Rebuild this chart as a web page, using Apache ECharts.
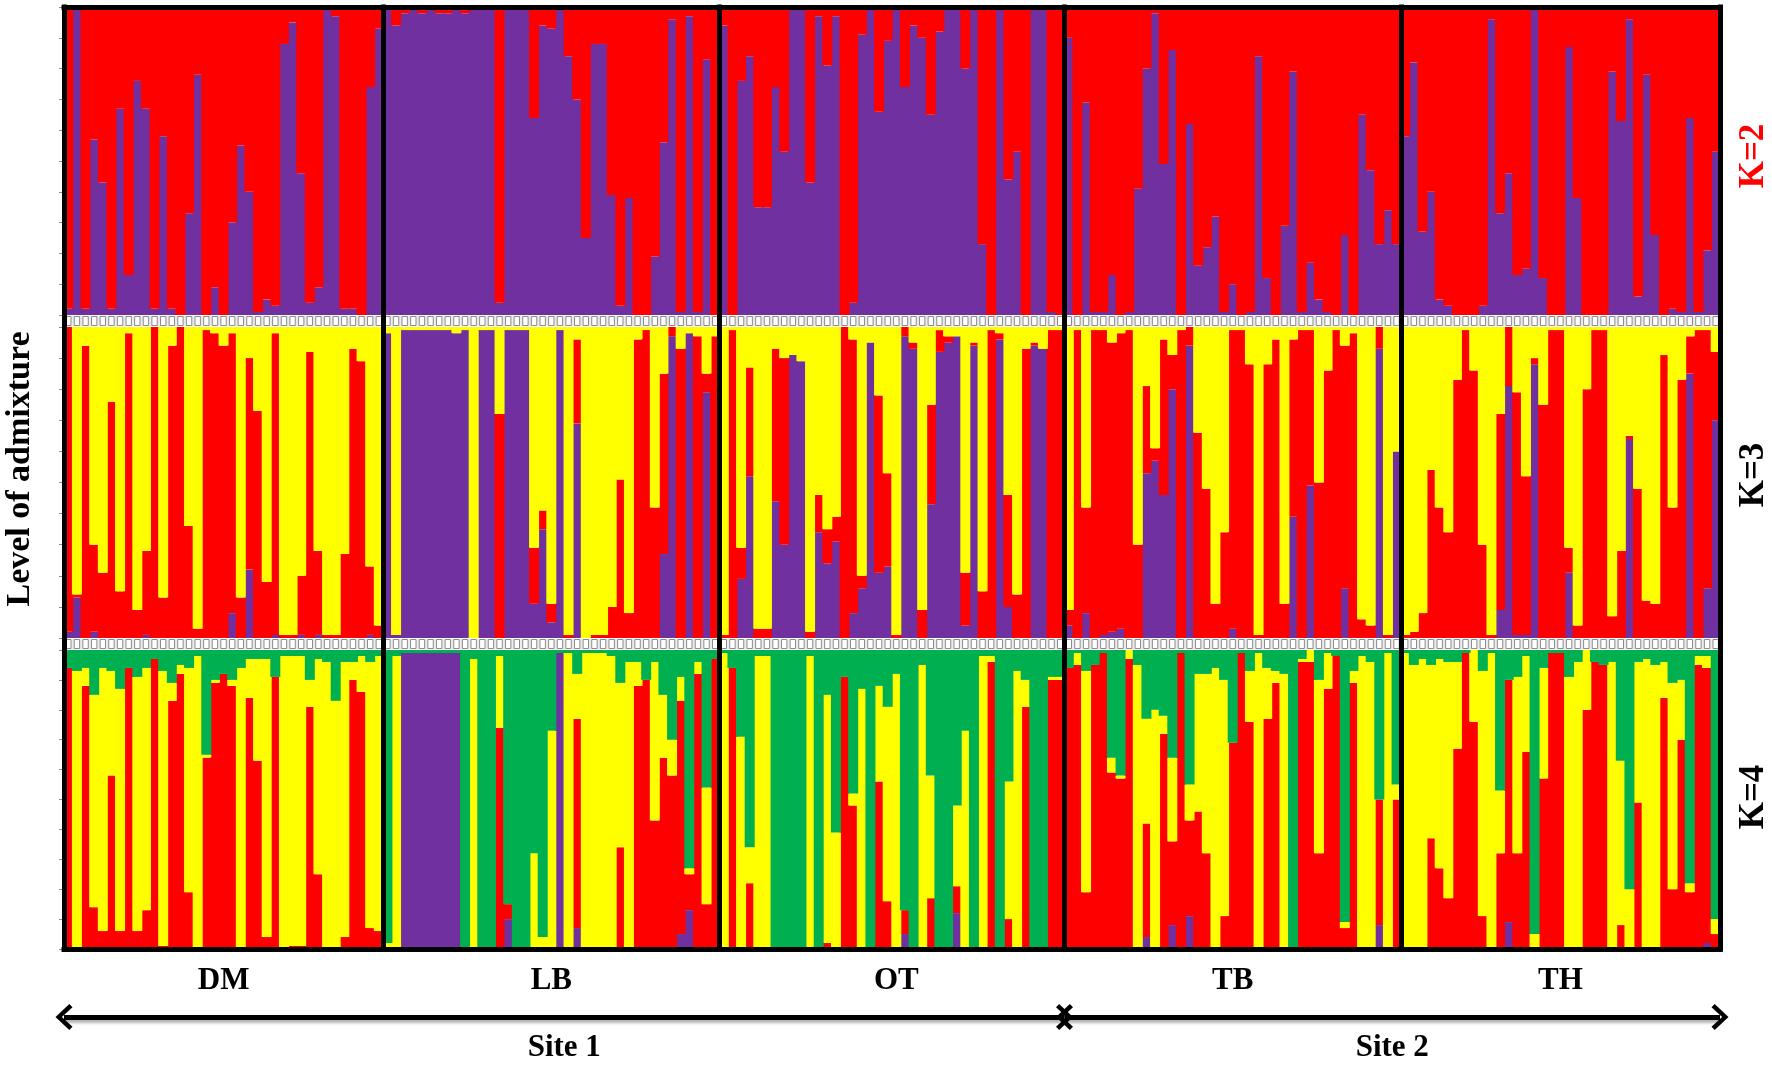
<!DOCTYPE html>
<html>
<head>
<meta charset="utf-8">
<title>Level of admixture</title>
<script src="https://cdn.jsdelivr.net/npm/echarts@6/dist/echarts.min.js"></script>
<style>
	html, body { margin: 0; padding: 0; background: #fff; }
	#report_1 { width: 1772px; height: 1065px; }
</style>
</head>
<body>
<div id="report_1"></div>
<script>
var popNames = ['DM', 'LB', 'OT', 'TB', 'TH'];
var popCounts = [37, 39, 40, 39, 37];
var siteNames = ['Site 1', 'Site 2'];
var sitePopCounts = [3, 2];
var kLabels = ['K=2', 'K=3', 'K=4'];

// K=2 (one line per population: DM, LB, OT, TB, TH)
var k2Purple = [
	0.02,0.99,0.02,0.57,0.43,0.02,0.67,0.13,0.76,0.67,0.02,0.58,0.02,0.00,0.33,0.78,0.00,0.09,0.00,0.30,0.55,0.40,0.01,0.05,0.03,0.88,0.95,0.46,0.04,0.09,0.99,0.97,0.02,0.02,0.00,0.74,0.93,
	0.99,0.94,0.98,0.99,0.98,0.99,0.98,0.98,0.99,0.98,0.99,0.99,0.99,0.04,0.99,0.99,0.99,0.64,0.94,0.93,0.99,0.84,0.70,0.25,0.88,0.88,0.39,0.03,0.38,0.00,0.00,0.19,0.56,0.96,0.01,0.97,0.01,0.83,0.00,
	0.94,0.00,0.76,0.84,0.35,0.35,0.74,0.53,0.99,0.99,0.43,0.97,0.81,0.97,0.00,0.04,0.91,0.99,0.66,0.89,0.99,0.74,0.94,0.90,0.65,0.92,0.99,0.99,0.80,0.99,0.23,0.00,0.99,0.44,0.53,0.00,0.99,0.99,0.01,0.00,
	0.90,0.00,0.69,0.01,0.01,0.13,0.00,0.01,0.41,0.80,0.98,0.49,0.86,0.00,0.62,0.16,0.22,0.32,0.01,0.10,0.00,0.01,0.84,0.12,0.00,0.29,0.79,0.01,0.17,0.05,0.01,0.00,0.26,0.00,0.65,0.47,0.23,0.34,0.23,
	0.58,0.82,0.27,0.40,0.05,0.03,0.00,0.00,0.00,0.03,0.96,0.33,0.46,0.13,0.15,0.99,0.12,0.00,0.00,0.87,0.38,0.00,0.00,0.00,0.79,0.63,0.96,0.06,0.78,0.26,0.00,0.02,0.01,0.64,0.01,0.21,0.53
];
var k2Red = [
	0.98,0.01,0.98,0.43,0.57,0.98,0.33,0.87,0.24,0.33,0.98,0.42,0.98,1.00,0.67,0.22,1.00,0.91,1.00,0.70,0.45,0.60,0.99,0.95,0.97,0.12,0.05,0.54,0.96,0.91,0.01,0.03,0.98,0.98,1.00,0.26,0.07,
	0.01,0.06,0.02,0.01,0.02,0.01,0.02,0.02,0.01,0.02,0.01,0.01,0.01,0.96,0.01,0.01,0.01,0.36,0.06,0.07,0.01,0.16,0.30,0.75,0.12,0.12,0.61,0.97,0.62,1.00,1.00,0.81,0.44,0.04,0.99,0.03,0.99,0.17,1.00,
	0.06,1.00,0.24,0.16,0.65,0.65,0.26,0.47,0.01,0.01,0.57,0.03,0.19,0.03,1.00,0.96,0.09,0.01,0.34,0.11,0.01,0.26,0.06,0.10,0.35,0.08,0.01,0.01,0.20,0.01,0.77,1.00,0.01,0.56,0.47,1.00,0.01,0.01,0.99,1.00,
	0.10,1.00,0.31,0.99,0.99,0.87,1.00,0.99,0.59,0.20,0.02,0.51,0.14,1.00,0.38,0.84,0.78,0.68,0.99,0.90,1.00,0.99,0.16,0.88,1.00,0.71,0.21,0.99,0.83,0.95,0.99,1.00,0.74,1.00,0.35,0.53,0.77,0.66,0.77,
	0.42,0.18,0.73,0.60,0.95,0.97,1.00,1.00,1.00,0.97,0.04,0.67,0.54,0.87,0.85,0.01,0.88,1.00,1.00,0.13,0.62,1.00,1.00,1.00,0.21,0.37,0.04,0.94,0.22,0.74,1.00,0.98,0.99,0.36,0.99,0.79,0.47
];

// K=3
var k3Purple = [
	0.02,0.13,0,0.02,0,0,0,0,0,0.01,0,0,0,0,0,0,0,0,0,0.08,0,0.22,0,0,0.01,0,0,0.01,0,0.01,0,0,0,0,0,0.01,0,
	0.98,0.01,0.99,0.99,0.99,0.99,0.99,0.99,0.98,0.99,0,0.99,0.99,0,0.99,0.99,0.99,0.11,0.35,0.05,0.99,0,0.69,0,0,0,0,0,0,0,0,0,0.27,0.97,0,0.98,0,0.79,0,
	0,0,0.19,0.52,0,0,0.44,0.30,0.91,0.89,0,0.34,0.24,0.31,0,0.08,0.16,0.95,0.21,0.23,0,0.97,0.93,0,0.43,0.92,0.95,0.97,0.04,0.94,0,0,0.96,0.10,0,0,0.94,0.93,0,0,
	0.04,0,0.08,0,0.01,0.02,0.03,0,0,0.53,0.57,0.46,0.80,0,0.94,0,0,0,0,0.03,0,0,0,0,0,0,0.39,0,0.49,0,0,0,0.16,0,0,0,0.93,0,0.60,
	0,0,0,0,0,0,0,0,0,0,0,0.09,0.81,0.01,0.01,0.88,0,0,0,0.21,0,0,0,0,0,0,0.64,0,0,0,0,0,0,0.85,0,0.16,0.70
];
var k3Red = [
	0.98,0.01,0.94,0.28,0.21,0.76,0.15,0.98,0.09,0.27,1.00,0.13,0.94,1.00,0.36,0.03,0.99,0.98,0.94,0.90,0.13,0.68,0.73,0.18,0.97,0.01,0.01,0.19,0.92,0.27,0.01,0.01,0.27,0.93,0.89,0.22,0.04,
	0,0,0,0,0,0,0,0,0,0,0,0,0,0.72,0,0,0,0.18,0.06,0.06,0,0.01,0.27,0,0.01,0.01,0.10,0.51,0.08,0.96,0.99,0.42,0.58,0.03,0.93,0,0.97,0.06,0.97,
	0.01,0.99,0.10,0.35,0.03,0.03,0.49,0.60,0,0,0.02,0.12,0.11,0.08,1.00,0.88,0.04,0,0.57,0.30,0.01,0.03,0.02,0.09,0.32,0.07,0.02,0,0.17,0.01,0.15,0.99,0.02,0.36,0.14,0.93,0.01,0,0.99,0.99,
	0.05,0.99,0.34,0.99,0.98,0.93,0.95,0.99,0.30,0.28,0.04,0.50,0.11,0.99,0.06,0.66,0.48,0.11,0.34,0.96,0.99,0.88,0.01,0.88,0.96,0.11,0.57,0.99,0.50,0.50,0.86,0.99,0.78,0.98,0.06,0.04,0.07,0.01,0,
	0.01,0.02,0.08,0.54,0.42,0.34,0.83,0.99,0.86,0.30,0.01,0.63,0.19,0.78,0.51,0.02,0.75,0.99,0.99,0.08,0.04,0.80,0.99,0.99,0.07,0.28,0.01,0.48,0.12,0.11,0.91,0.42,0.83,0.12,0.99,0.83,0.22
];
var k3Yellow = [
	0,0.86,0.06,0.70,0.79,0.24,0.85,0.02,0.91,0.72,0,0.87,0.06,0,0.64,0.97,0.01,0.02,0.06,0.02,0.87,0.10,0.27,0.82,0.02,0.99,0.99,0.80,0.08,0.72,0.99,0.99,0.73,0.07,0.11,0.77,0.96,
	0.02,0.99,0.01,0.01,0.01,0.01,0.01,0.01,0.02,0.01,1.00,0.01,0.01,0.28,0.01,0.01,0.01,0.71,0.59,0.89,0.01,0.99,0.04,1.00,0.99,0.99,0.90,0.49,0.92,0.04,0.01,0.58,0.15,0,0.07,0.02,0.03,0.15,0.03,
	0.99,0.01,0.71,0.13,0.97,0.97,0.07,0.10,0.09,0.11,0.98,0.54,0.65,0.61,0,0.04,0.80,0.05,0.22,0.47,0.99,0,0.05,0.91,0.25,0.01,0.03,0.03,0.79,0.05,0.85,0.01,0.02,0.54,0.86,0.07,0.05,0.07,0.01,0.01,
	0.91,0.01,0.58,0.01,0.01,0.05,0.02,0.01,0.70,0.19,0.39,0.04,0.09,0.01,0,0.34,0.52,0.89,0.66,0.01,0.01,0.12,0.99,0.12,0.04,0.89,0.04,0.01,0.01,0.50,0.14,0.01,0.06,0.02,0.94,0.96,0,0.99,0.40,
	0.99,0.98,0.92,0.46,0.58,0.66,0.17,0.01,0.14,0.70,0.99,0.28,0,0.21,0.48,0.10,0.25,0.01,0.01,0.71,0.96,0.20,0.01,0.01,0.93,0.72,0.35,0.52,0.88,0.89,0.09,0.58,0.17,0.03,0.01,0.01,0.08
];

// K=4
var k4Purple = [
	0,0,0,0,0,0,0,0,0,0,0,0,0,0,0,0,0,0,0,0,0,0,0,0,0,0,0,0,0,0,0,0,0,0,0,0,0,
	0,0,0.99,0.99,0.99,0.99,0.99,0.99,0.99,0,0,0,0,0,0.10,0,0,0,0,0,0.99,0,0.07,0,0,0,0,0,0,0,0,0,0,0,0.05,0.13,0,0,0,
	0,0,0,0,0,0,0,0,0,0,0,0,0,0,0,0,0,0,0,0,0,0.05,0,0,0,0,0,0.12,0,0,0,0,0,0,0,0,0,0,0,0,
	0,0,0,0,0,0,0,0,0,0.04,0,0,0.08,0,0.11,0,0,0,0,0,0,0,0,0,0,0,0,0,0,0,0,0,0,0,0,0,0.08,0,0,
	0,0,0,0,0,0,0,0,0,0,0,0,0.09,0,0,0,0,0,0,0,0,0,0,0,0,0,0,0,0,0,0,0,0,0,0,0.02,0
];
var k4Red = [
	0.94,0,0.88,0.14,0.06,0.58,0.06,0.94,0.06,0.13,0.97,0.01,0.83,0.92,0.19,0,0.64,0.89,0.92,0.88,0,0.84,0.63,0.04,0.91,0,0.01,0.01,0.81,0.25,0,0,0.04,0.90,0.86,0.07,0.06,
	0,0,0,0,0,0,0,0,0,0,0,0,0,0.74,0.05,0,0,0,0,0,0,0,0.70,0,0,0,0,0.34,0,0.88,0.90,0.43,0.64,0.58,0.78,0.12,0.92,0.15,0.97,
	0,0.94,0,0.22,0,0,0,0,0,0,0,0,0.02,0,0.91,0.48,0,0,0.56,0.16,0,0.08,0,0,0.17,0,0,0.09,0,0,0,0.96,0,0.10,0,0.81,0,0,0.90,0.90,
	0.94,0.95,0.19,0.95,0.99,0.59,0.57,0.97,0,0.38,0,0.72,0.28,0.99,0.32,0.46,0.32,0,0.11,0.69,0.99,0.76,0,0.77,0.89,0,0,0.96,0.96,0.32,0.87,0.98,0.07,0.89,0,0,0.42,0,0.50,
	0,0,0,0.37,0.27,0.17,0.67,0.99,0.76,0.11,0,0.32,0.81,0.32,0.66,0,0.57,0.99,0.99,0,0,0.80,0.96,0.95,0,0.08,0,0.49,0,0,0.84,0.20,0.70,0.19,0.95,0.92,0.05
];
var k4Yellow = [
	0,0.93,0.06,0.71,0.88,0.35,0.81,0,0.85,0.81,0,0.92,0.06,0.03,0.75,0.98,0.01,0.01,0,0.02,0.94,0.13,0.34,0.93,0,0.98,0.97,0.97,0.09,0.72,0.96,0.83,0.92,0.06,0.12,0.89,0.92,
	0.02,0.98,0,0,0,0,0,0,0,0,0.97,0,0,0.24,0,0,0,0.32,0.04,0.73,0,0.99,0.15,0.99,0.99,0.99,0.98,0.55,0.96,0.08,0,0.53,0.21,0.12,0.08,0.02,0.04,0.39,0,
	0.99,0,0.71,0.12,0.98,0.98,0,0,0,0,0.98,0,0.83,0.39,0,0.04,0.87,0,0.32,0.65,0.92,0,0,0.95,0.41,0,0,0.27,0.73,0,0.98,0.02,0,0.46,0.93,0.09,0,0,0.01,0.01,
	0,0.04,0.74,0,0,0.05,0.01,0.03,0.95,0.35,0.80,0.06,0.28,0,0.12,0.46,0.60,0.94,0.79,0,0,0.17,0.99,0.17,0.04,0.92,0,0.01,0.04,0.58,0.12,0,0.02,0.04,0.98,0.96,0,0.99,0.05,
	0.99,0.95,0.97,0.58,0.70,0.79,0.29,0,0.24,0.82,0.99,0.21,0,0.59,0.32,0.05,0.37,0,0,0.91,0.96,0.20,0,0,0.96,0.55,0.20,0.47,0.97,0.95,0.12,0.69,0.20,0.03,0.03,0.04,0.05
];
var k4Green = [
	0.06,0.07,0.06,0.15,0.06,0.07,0.13,0.06,0.09,0.06,0.03,0.07,0.11,0.05,0.06,0.02,0.35,0.10,0.08,0.10,0.06,0.03,0.03,0.03,0.09,0.02,0.02,0.02,0.10,0.03,0.04,0.17,0.04,0.04,0.02,0.04,0.02,
	0.98,0.02,0.01,0.01,0.01,0.01,0.01,0.01,0.01,1.00,0.03,1.00,1.00,0.02,0.85,1.00,1.00,0.68,0.96,0.27,0.01,0.01,0.08,0.01,0.01,0.01,0.02,0.11,0.04,0.04,0.10,0.04,0.15,0.30,0.09,0.73,0.04,0.46,0.03,
	0.01,0.06,0.29,0.66,0.02,0.02,1,1,1,1,0.02,1,0.15,0.61,0.09,0.48,0.13,1,0.12,0.19,0.08,0.87,1,0.05,0.42,1,1,0.52,0.27,1,0.02,0.02,1,0.44,0.07,0.10,1,1,0.09,0.09,
	0.06,0.01,0.07,0.05,0.01,0.36,0.42,0,0.05,0.23,0.20,0.22,0.36,0.01,0.45,0.08,0.08,0.06,0.10,0.31,0.01,0.07,0.01,0.06,0.07,0.08,1.00,0.03,0,0.10,0.01,0.02,0.91,0.07,0.02,0.04,0.50,0.01,0.45,
	0.01,0.05,0.03,0.05,0.03,0.04,0.04,0.01,0,0.07,0.01,0.47,0.10,0.09,0.02,0.95,0.06,0.01,0.01,0.09,0.04,0,0.04,0.05,0.04,0.37,0.80,0.04,0.03,0.05,0.04,0.11,0.10,0.78,0.02,0.02,0.90
];

var PURPLE = '#7030A0', RED = '#FF0000', YELLOW = '#FFFF00', GREEN = '#00B050';
var SERIF = '"Liberation Serif", "Times New Roman", serif';

(function () {
	// individuals, population boundaries
	var categories = [];
	var bounds = [0];
	popNames.forEach(function (p, i) {
		for (var j = 1; j <= popCounts[i]; j++) {
			categories.push(p + '-' + j);
		}
		bounds.push(bounds[i] + popCounts[i]);
	});
	var total = bounds[bounds.length - 1];
	var midIndex = popNames.map(function (p, i) {
		return bounds[i] + Math.floor(popCounts[i] / 2);
	});
	var siteBounds = [0];
	var k = 0;
	sitePopCounts.forEach(function (n) {
		k += n;
		siteBounds.push(bounds[k]);
	});

	var L = 64, R = 52;
	var grids = [
		{ left : L, right : R, top : 7, height : 308 },		// K=2
		{ left : L, right : R, top : 316, height : 10, show : true, backgroundColor : '#ececec', borderWidth : 0 },
		{ left : L, right : R, top : 327, height : 311 },	// K=3
		{ left : L, right : R, top : 639, height : 10, show : true, backgroundColor : '#ececec', borderWidth : 0 },
		{ left : L, right : R, top : 650, height : 299 },	// K=4
		{ left : L, right : R, top : 7, height : 942 },		// frame
		{ left : L, right : R, top : 1005, height : 24 }	// sites
	];
	// one column per individual, slightly wider than its slot so neighbours touch
	var colWidth = Math.ceil((1772 - L - R) / total) + 1;

	var xAxes = [];
	var yAxes = [];
	for (var g = 0; g < 5; g++) {
		xAxes.push({
			gridIndex : g,
			type : 'category',
			data : categories,
			show : g === 4,
			axisLine : { show : false },
			axisTick : { show : false },
			axisLabel : {
				show : g === 4,
				interval : function (index) {
					return midIndex.indexOf(index) >= 0;
				},
				formatter : function (value, index) {
					return popNames[midIndex.indexOf(index)];
				},
				margin : 16,
				color : '#000',
				fontFamily : SERIF,
				fontWeight : 'bold',
				fontSize : 31
			}
		});
		var panel = (g % 2 === 0);
		yAxes.push({
			gridIndex : g,
			type : 'value',
			min : 0,
			max : 1,
			interval : 0.1,
			show : panel,
			axisLine : { show : false },
			axisTick : { show : panel, length : 5, lineStyle : { color : '#8a8a8a', width : 1 } },
			axisLabel : { show : false },
			splitLine : { show : false }
		});
	}
	[5, 6].forEach(function (g) {
		xAxes.push({ gridIndex : g, type : 'value', min : 0, max : total, show : false });
		yAxes.push({ gridIndex : g, type : 'value', min : 0, max : 1, show : false });
	});

	function bar(name, stack, axis, data, color) {
		return {
			name : name,
			type : 'bar',
			stack : stack,
			xAxisIndex : axis,
			yAxisIndex : axis,
			barWidth : colWidth,
			data : data,
			silent : true,
			itemStyle : { color : color, borderWidth : 0 }
		};
	}
	function squares(axis) {
		return {
			type : 'bar',
			xAxisIndex : axis,
			yAxisIndex : axis,
			barWidth : '74%',
			silent : true,
			data : categories.map(function () { return 1; }),
			itemStyle : { color : '#fff', borderColor : '#8c8c8c', borderWidth : 1 }
		};
	}

	var frameLines = bounds.map(function (b) { return { xAxis : b }; });
	frameLines.push({ yAxis : 0 }, { yAxis : 1 });

	var siteLines = siteNames.map(function (s, i) {
		return [
			{ name : s, coord : [siteBounds[i], 0.5] },
			{ coord : [siteBounds[i + 1], 0.5] }
		];
	});
	var chevron = 'path://M12,0 L24,13 L21,16 L12,6 L3,16 L0,13 Z';

	var series = [
		bar('k2-1', 'k2', 0, k2Purple, PURPLE),
		bar('k2-2', 'k2', 0, k2Red, RED),
		squares(1),
		bar('k3-1', 'k3', 2, k3Purple, PURPLE),
		bar('k3-2', 'k3', 2, k3Red, RED),
		bar('k3-3', 'k3', 2, k3Yellow, YELLOW),
		squares(3),
		bar('k4-1', 'k4', 4, k4Purple, PURPLE),
		bar('k4-2', 'k4', 4, k4Red, RED),
		bar('k4-3', 'k4', 4, k4Yellow, YELLOW),
		bar('k4-4', 'k4', 4, k4Green, GREEN),
		{
			type : 'line',
			xAxisIndex : 5,
			yAxisIndex : 5,
			data : [],
			z : 10,
			clip : false,
			markLine : {
				silent : true,
				symbol : [ 'none', 'none' ],
				label : { show : false },
				lineStyle : { color : '#000', width : 5, type : 'solid', cap : 'square' },
				data : frameLines
			}
		},
		{
			type : 'line',
			xAxisIndex : 6,
			yAxisIndex : 6,
			data : [],
			clip : false,
			markLine : {
				silent : true,
				symbol : [ chevron, chevron ],
				symbolSize : [ 26, 17 ],
				lineStyle : {
					color : '#000',
					width : 5,
					type : 'solid',
					shadowColor : 'rgba(0,0,0,0.3)',
					shadowBlur : 3,
					shadowOffsetY : 3
				},
				itemStyle : { color : '#000' },
				label : {
					show : true,
					position : 'insideMiddleBottom',
					distance : 15,
					formatter : '{b}',
					color : '#000',
					fontFamily : SERIF,
					fontWeight : 'bold',
					fontSize : 31
				},
				data : siteLines
			}
		}
	];

	var kY = [156, 475, 797];
	var graphics = [{
		type : 'text',
		x : 20,
		y : 469,
		rotation : Math.PI / 2,
		style : {
			text : 'Level of admixture',
			font : 'bold 34px ' + SERIF,
			fill : '#000',
			textAlign : 'center',
			textVerticalAlign : 'middle'
		}
	}];
	kLabels.forEach(function (t, i) {
		graphics.push({
			type : 'text',
			x : 1754,
			y : kY[i],
			rotation : Math.PI / 2,
			style : {
				text : t,
				font : 'bold 35px ' + SERIF,
				fill : i === 0 ? RED : '#000',
				textAlign : 'center',
				textVerticalAlign : 'middle'
			}
		});
	});

	var option = {
		backgroundColor : '#fff',
		animation : false,
		grid : grids,
		xAxis : xAxes,
		yAxis : yAxes,
		series : series,
		graphic : graphics
	};
	var dom = document.getElementById('report_1');
	var myChart = echarts.init(dom);
	myChart.setOption(option, true);
})();
</script>
</body>
</html>
